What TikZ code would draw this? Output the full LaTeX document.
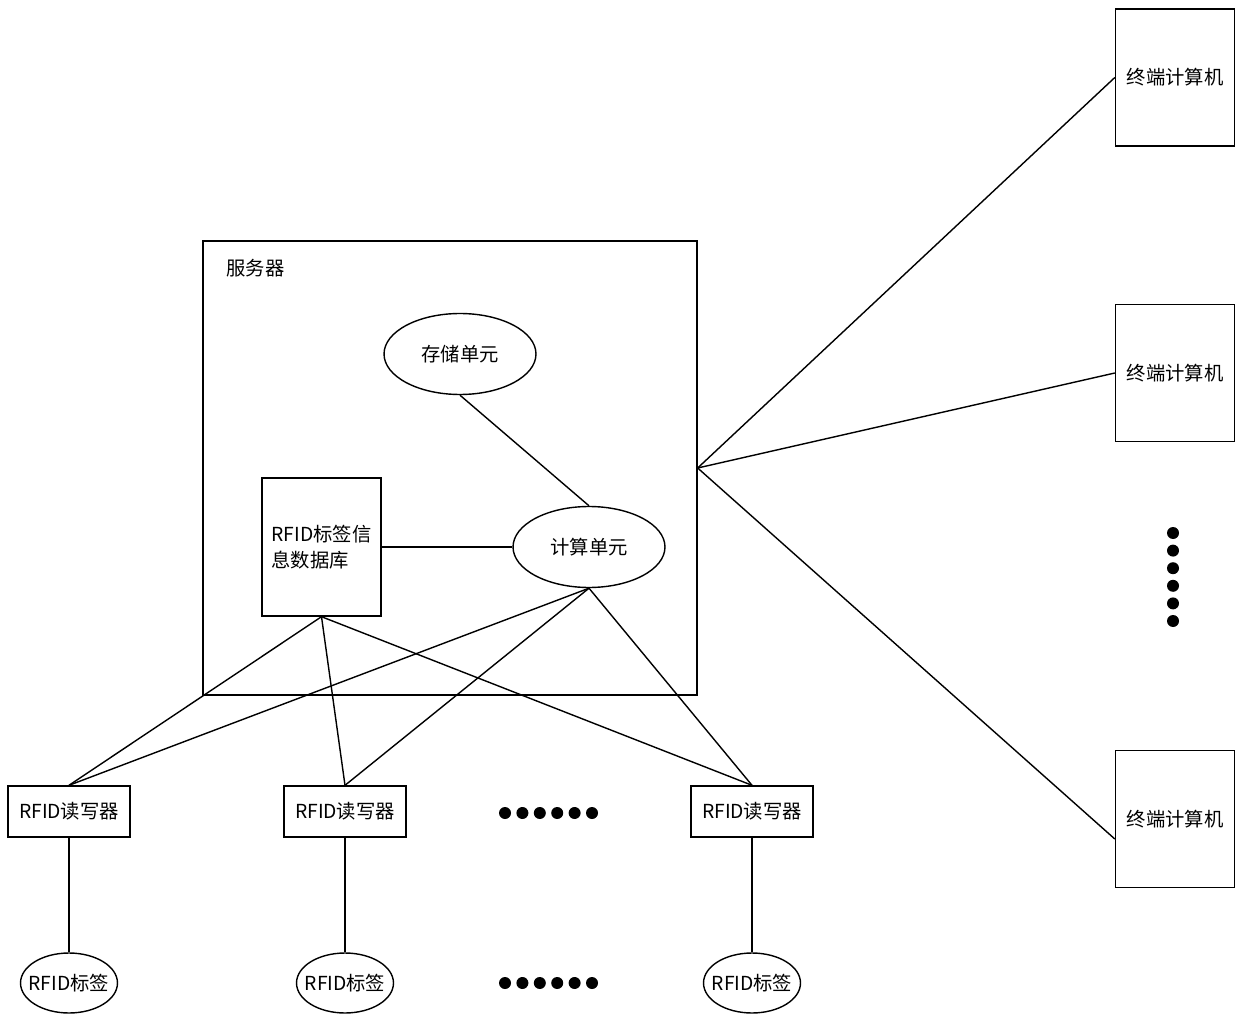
\documentclass[tikz,border=0pt]{standalone}
\usepackage{fontspec}
\setmainfont{Noto Sans CJK SC}
\usetikzlibrary{shapes.geometric}

\begin{document}
\begin{tikzpicture}[x=0.02cm, y=-0.02cm, line width=0.8pt,
    every node/.style={font=\fontsize{11}{15}\selectfont},
    unitoval/.style={draw, ellipse, inner sep=0pt,
      minimum width=3.04cm, minimum height=1.62cm},
    readerbox/.style={draw, rectangle, inner sep=0pt,
      minimum width=2.44cm, minimum height=1.02cm},
    tagoval/.style={draw, ellipse, inner ysep=0pt, inner xsep=-5pt,
      minimum width=1.94cm, minimum height=1.2cm},
    termbox/.style={draw, rectangle, inner sep=0pt,
      minimum width=2.38cm, minimum height=2.74cm},
    dot/.style={fill=black}]
  \useasboundingbox (0,0) rectangle (1250,1023);

  % ── Server ───────────────────────────────────────────
  \node[draw, rectangle, inner sep=0pt, minimum width=9.88cm,
        minimum height=9.08cm] (server) at (450,468) {};
  \node[anchor=west] (serverlabel) at (220,268) {服务器};
  \node[unitoval] (storage) at (460,354) {存储单元};
  \node[unitoval] (compute) at (589,547) {计算单元};
  \node[draw, rectangle, inner sep=0pt, minimum width=2.38cm,
        minimum height=2.76cm, align=left] (db) at (321.5,547)
    {RFID标签信\\息数据库};
  \draw (storage.south) -- (compute.north);
  \draw (db.east) -- (compute.west);

  % ── Readers and tags ─────────────────────────────────
  \node[readerbox] (reader1) at (69,811.5) {RFID读写器};
  \node[readerbox] (reader2) at (345,811.5) {RFID读写器};
  \node[readerbox] (reader3) at (752,811.5) {RFID读写器};
  \node[tagoval] (tag1) at (69,983) {RFID标签};
  \node[tagoval] (tag2) at (345,983) {RFID标签};
  \node[tagoval] (tag3) at (752,983) {RFID标签};
  \foreach \r in {1,2,3} {
    \draw (db.south) -- (reader\r.north);
    \draw (compute.south) -- (reader\r.north);
    \draw (reader\r.south) -- (tag\r.north);
  }
  % More readers / tags
  \foreach \i in {0,...,5} {
    \fill[dot] (505+17.4*\i,813) circle (0.12cm);
    \fill[dot] (505+17.4*\i,983) circle (0.12cm);
  }

  % ── Terminal computers ───────────────────────────────
  \node[termbox] (term1) at (1175,77.5) {终端计算机};
  \node[termbox] (term2) at (1175,373) {终端计算机};
  \node[termbox] (term3) at (1175,819) {终端计算机};
  \draw (server.east) -- (term1.west);
  \draw (server.east) -- (term2.west);
  \draw (server.east) -- ([yshift=-0.4cm]term3.west);
  \foreach \i in {0,...,5}
    \fill[dot] (1173,533+17.6*\i) circle (0.12cm);
\end{tikzpicture}
\end{document}
